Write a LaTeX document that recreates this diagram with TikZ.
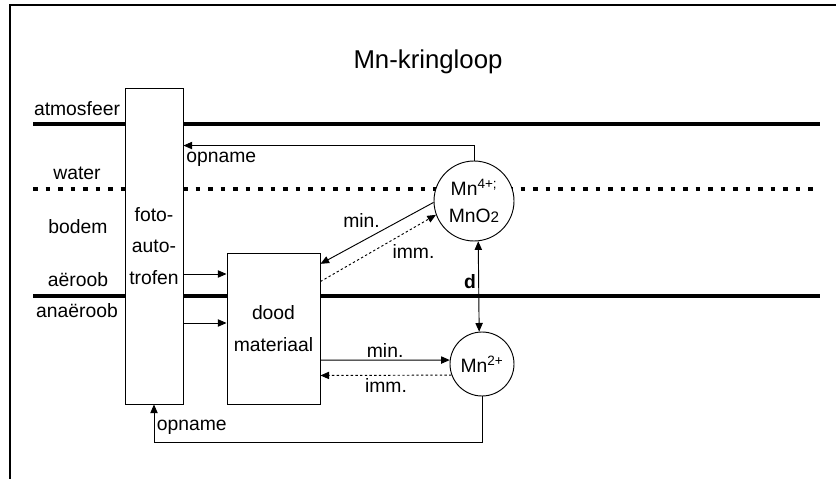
\documentclass[tikz,border=0pt]{standalone}
\usepackage{fontspec}
\setmainfont{Liberation Sans}
\usetikzlibrary{arrows.meta, positioning}

\begin{document}
\begin{tikzpicture}[x=0.03cm, y=-0.03cm,
        txt/.style={font=\fontsize{16.5}{27}\selectfont},
        box/.style={rectangle, draw=black, fill=white, line width=0.8pt, inner sep=0pt, align=center, txt},
        pool/.style={circle, draw=black, fill=white, line width=0.8pt, inner sep=0pt, align=center, txt},
        layer/.style={line width=3.4pt},
        arr/.style={line width=0.8pt, -{Triangle[length=0.26cm, width=0.22cm]}},
        immarr/.style={arr, dash pattern=on 2pt off 2pt},
        lbl/.style={txt, inner sep=2pt}
    ]
    \useasboundingbox (0,0) rectangle (836,479);
    \draw[line width=1.3pt] (836,5) -| (10,479);

    % Title
    \node[font=\fontsize{22}{26}\selectfont] (title) at (428,62) {Mn-kringloop};

    % Layers
    \node[lbl] (atm) at (77,109) {atmosfeer};
    \node[lbl] (water) at (77,173) {water};
    \node[lbl] (bodem) at (78,227) {bodem};
    \node[lbl] (aeroob) at (78,280) {aëroob};
    \node[lbl] (anaeroob) at (77,311) {anaëroob};
    \draw[layer] (33,124) -- (820,124);
    \draw[layer, dash pattern=on 0.135cm off 0.24cm] (33,189) -- (820,189);
    \draw[layer] (33,296) -- (820,296);

    % Pools
    \node[box, minimum width=1.74cm, minimum height=9.48cm] (foto) at (154,246) {foto-\\auto-\\trofen};
    \node[box, minimum width=2.79cm, minimum height=4.53cm] (dood) at (273.5,328.5) {dood\\materiaal};
    \node[pool, minimum size=2.4cm, font=\fontsize{16.5}{23}\selectfont] (mnfour) at (474,201) {Mn\textsuperscript{4+;}\\MnO{\fontsize{13}{13}\selectfont 2}};
    \node[pool, minimum size=1.92cm] (mntwo) at (482,364) {Mn\textsuperscript{2+}};

    % Fluxes
    \draw[arr] (mnfour.north) -- ++(0,-15) coordinate (optop) -- (optop -| foto.east) node[lbl, below right, yshift=-3pt] {opname};
    \draw[arr] (foto.east |- 0,274) -- (dood.west |- 0,274);
    \draw[arr] (foto.east |- 0,323) -- (dood.west |- 0,323);
    \draw[arr] (mnfour.182) -- node[lbl, pos=0.45, above left] {min.} (dood.54.6);
    \draw[immarr] (dood.45.6) -- node[lbl, pos=0.6, below right] {imm.} (mnfour.200);
    \draw[arr] (dood.-34) -- node[lbl, above] {min.} (mntwo.173);
    \draw[immarr] (mntwo.200) -- node[lbl, below] {imm.} (dood.-45);
    \draw[arr, {Triangle[length=0.26cm, width=0.22cm]}-{Triangle[length=0.26cm, width=0.22cm]}] (mnfour.-84) -- node[lbl, pos=0.45, left, font=\fontsize{16.5}{27}\selectfont\bfseries] {d} (mntwo.95);
    \draw[arr] (mntwo.south) -- ++(0,46) -| node[lbl, pos=0.7, right] {opname} (foto.south);

\end{tikzpicture}
\end{document}
